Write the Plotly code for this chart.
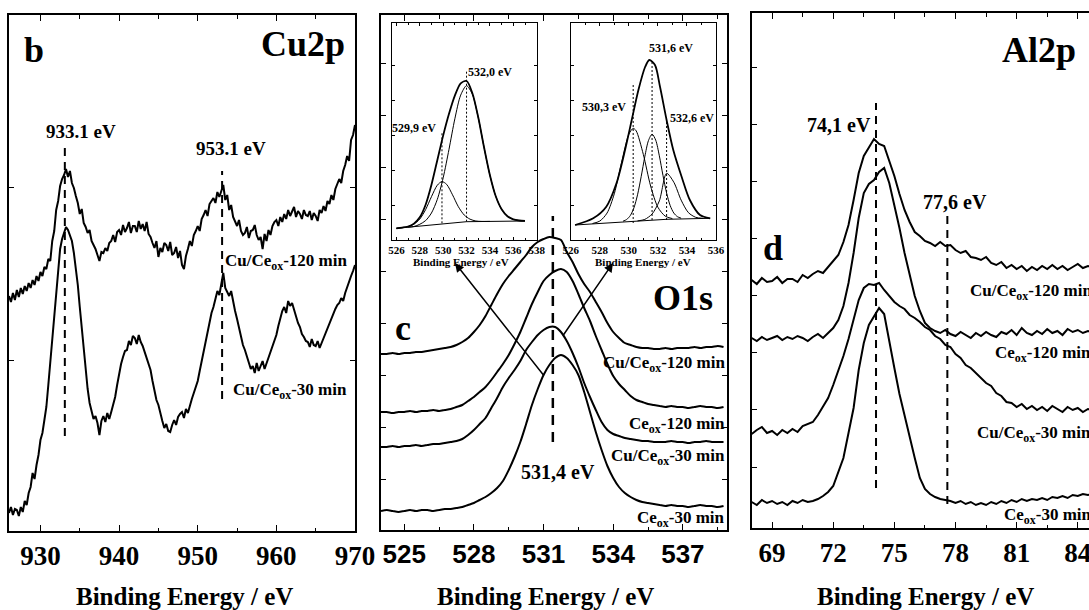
import numpy as np
import plotly.graph_objects as go

W, H = 1089, 610
SERIF = "Liberation Serif"
SANS = "Liberation Sans"

# ---------------- Cu2p spectra (panel b), arbitrary intensity ----------------
cu_energy = np.arange(926.0, 970.01, 0.25)
cu_120 = [
    235, 229, 238, 231,  241, 234, 243, 237,  245, 240, 248, 243,  251, 246, 255, 250,
    259, 255, 264, 262,  272, 270, 290, 300,  321, 330, 345, 352,  356, 362, 354, 360,
    348, 343, 335, 328,  317, 322, 308, 304,  298, 301, 290, 286,  282, 276, 270, 279,
    278, 283, 280, 288,  290, 296, 289, 299,  301, 296, 306, 299,  303, 309, 298, 305,
    305, 299, 310, 302,  307, 300, 309, 297,  294, 288, 283, 290,  274, 283, 279, 288,
    286, 280, 289, 276,  278, 284, 273, 280,  266, 262, 275, 282,  290, 285, 296, 300,
    305, 300, 312, 316,  321, 315, 327, 330,  333, 328, 339, 334,  340, 346, 331, 336,
    321, 326, 314, 310,  305, 311, 300, 296,  298, 304, 293, 300,  301, 306, 296, 291,
    294, 282, 297, 290,  301, 296, 305, 309,  311, 305, 314, 309,  317, 312, 321, 315,
    319, 324, 314, 320,  317, 312, 321, 316,  315, 320, 311, 318,  315, 310, 321, 318,
    325, 320, 330, 327,  336, 331, 342, 347,  352, 348, 360, 366,  375, 370, 391, 396,
    406,
]
cu_30 = [
    18, 24, 16, 22,  21, 15, 24, 19,  30, 26, 38, 44,  58, 52, 66, 76,
    91, 98, 111, 124,  146, 168, 193, 214,  235, 258, 282, 292,  298, 304, 301, 296,
    290, 278, 263, 246,  224, 203, 181, 160,  142, 128, 119, 112,  115, 108, 96, 110,
    115, 109, 118, 112,  119, 126, 134, 146,  158, 167, 174, 180,  181, 190, 186, 195,
    193, 187, 196, 189,  185, 179, 172, 167,  161, 150, 140, 131,  126, 117, 110, 103,
    107, 100, 99, 106,  111, 106, 114, 117,  119, 113, 122, 118,  126, 132, 138, 143,
    150, 160, 170, 180,  189, 198, 210, 218,  224, 232, 240, 236,  247, 258, 243, 238,
    235, 240, 229, 220,  212, 203, 192, 186,  181, 175, 170, 162,  165, 158, 168, 160,
    165, 170, 162, 168,  173, 180, 186, 190,  196, 205, 212, 220,  224, 218, 230, 225,
    228, 221, 214, 208,  204, 197, 194, 190,  189, 184, 192, 186,  185, 190, 183, 188,
    192, 199, 204, 208,  212, 218, 222, 226,  228, 233, 230, 238,  243, 249, 255, 260,
    266,
]
cu_peaks = [933.1, 953.1]
cu_ticks = [930, 940, 950, 960, 970]

# ---------------- O1s spectra (panel c) ----------------
o_energy = np.arange(524.0, 538.76, 0.25)
o_cu120 = [
    176, 176, 177, 176,  177, 177, 178, 178,  179, 180, 181, 182,  183, 185, 188, 192,
    198, 205, 214, 225,  236, 246, 254, 261,  268, 275, 283, 288,  291, 293, 292, 290,
    278, 268, 256, 246,  238, 228, 218, 207,  198, 192, 187, 185,  183, 182, 182, 181,
    181, 182, 181, 182,  182, 182, 183, 182,  183, 183, 184, 183,
]
o_ce120 = [
    118, 118, 117, 118,  118, 119, 118, 119,  119, 120, 119, 120,  121, 123, 125, 129,
    133, 138, 143, 150,  158, 166, 175, 186,  198, 212, 226, 238,  249, 255, 259, 261,
    258, 249, 236, 222,  209, 194, 180, 166,  154, 146, 140, 134,  130, 128, 126, 125,
    124, 123, 124, 123,  123, 122, 123, 124,  123, 123, 122, 123,
]
o_cu30 = [
    83, 83, 84, 83,  84, 84, 85, 84,  85, 86, 86, 87,  88, 89, 91, 95,
    100, 106, 112, 122,  132, 143, 152, 160,  169, 180, 188, 195,  200, 203, 203, 198,
    189, 177, 163, 147,  133, 120, 108, 100,  96, 94, 92, 91,  90, 89, 89, 88,
    88, 88, 89, 88,  88, 87, 88, 88,  89, 88, 88, 88,
]
o_ce30 = [
    19, 20, 19, 18,  19, 20, 19, 20,  20, 19, 20, 21,  21, 22, 23, 25,
    27, 30, 33, 37,  42, 49, 60, 73,  88, 106, 125, 141,  155, 165, 172, 175,
    172, 165, 155, 138,  118, 98, 80, 64,  52, 43, 37, 33,  30, 28, 27, 26,
    25, 24, 25, 24,  24, 23, 24, 25,  24, 24, 23, 24,
]
o_peak = 531.4
o_ticks = [525, 528, 531, 534, 537]

# O1s deconvolution, Cu/Ce_ox-30 min (left inset)
li_bg_e = [526.0, 532.0, 537.0]
li_bg = [11.7, 18.3, 19.0]
li_c1_e = [526.0, 526.5, 527.0, 527.5, 528.0, 528.5, 529.0, 529.5, 529.9,
           530.3, 530.8, 531.3, 531.8, 532.3, 532.8, 533.3, 534.0]
li_c1 = [11.7, 12.4, 13.4, 15.8, 20.9, 30.4, 43.3, 54.8, 58.4,
         55.6, 45.2, 33.3, 25.0, 20.8, 19.0, 18.6, 18.6]
li_c2_e = [527.0, 527.5, 528.0, 528.5, 529.0, 529.5, 530.0, 530.5, 531.0, 531.5, 532.0,
           532.5, 533.0, 533.5, 534.0, 534.5, 535.0, 535.5, 536.0, 536.5, 537.0]
li_c2 = [12.8, 13.5, 15.7, 19.4, 27.0, 40.6, 62.1, 90.7, 121.2, 144.9, 154.3,
         145.6, 122.5, 92.5, 64.6, 43.7, 30.6, 23.5, 20.6, 19.4, 19.2]
li_env_e = [526.0, 526.5, 527.0, 527.5, 528.0, 528.5, 529.0, 529.5, 530.0, 530.5, 531.0, 531.5,
            532.0, 532.5, 533.0, 533.5, 534.0, 534.5, 535.0, 535.5, 536.0, 536.5, 537.0]
li_env = [11.7, 12.4, 13.5, 16.4, 22.7, 35.3, 55.3, 79.8, 104.4, 126.2, 144.4, 156.6,
          159.0, 146.8, 122.7, 92.5, 64.8, 43.7, 30.7, 23.7, 20.6, 19.5, 19.1]
li_peaks = [529.9, 532.0]
li_ticks = [526, 528, 530, 532, 534, 536, 538]

# O1s deconvolution, Cu/Ce_ox-120 min (right inset)
ri_bg_e = [526.3, 532.6, 535.6]
ri_bg = [15.0, 20.7, 21.7]
ri_c1_e = [527.5, 528.0, 528.5, 529.0, 529.5, 530.0, 530.3, 530.5, 531.0, 531.5, 532.0, 532.5, 533.0]
ri_c1 = [16.5, 18.9, 26.9, 46.2, 77.6, 105.7, 111.6, 109.3, 85.5, 54.0, 32.8, 23.9, 21.4]
ri_c2_e = [529.6, 529.85, 530.1, 530.35, 530.6, 530.85, 531.1, 531.35, 531.6,
           531.85, 532.1, 532.35, 532.6, 532.85, 533.1, 533.35, 533.6]
ri_c2 = [18.8, 20.5, 24.4, 32.1, 45.2, 63.3, 83.3, 99.4, 105.8,
         99.9, 84.2, 64.6, 47.0, 34.3, 26.9, 23.3, 21.8]
ri_c3_e = [530.6, 531.1, 531.6, 532.1, 532.6, 533.1, 533.6, 534.1, 534.6, 535.1]
ri_c3 = [19.1, 20.6, 26.0, 39.1, 66.7, 57.7, 39.9, 27.4, 22.7, 21.7]
ri_env_e = [526.3, 527.55, 528.45, 529.15, 529.74, 530.2, 530.66, 531.12, 531.41,
            531.8, 532.15, 532.6, 533.06, 533.64, 534.2, 534.9, 535.6]
ri_env = [15.0, 21.7, 33.3, 56.7, 90.0, 120.0, 150.0, 173.0, 180.0,
          175.0, 153.0, 120.0, 90.0, 63.0, 40.0, 25.0, 21.7]
ri_peaks = [530.3, 531.6, 532.6]
ri_ticks = [526, 528, 530, 532, 534, 536]

# ---------------- Al2p spectra (panel d) ----------------
al_energy = np.arange(68.0, 84.76, 0.25)
al_cu120 = [
    248, 244, 250, 246,  247, 251, 245, 249,  249, 246, 253, 250,  254, 257, 255, 261,
    266, 273, 286, 303,  328, 355, 372, 380,  389, 384, 382, 367,  352, 334, 318, 306,
    296, 292, 287, 285,  282, 286, 282, 283,  278, 275, 277, 271,  270, 268, 271, 265,
    263, 266, 260, 263,  259, 262, 257, 261,  258, 262, 259, 263,  259, 262, 258, 261,
    264, 260, 262, 261,
]
al_ce120 = [
    190, 187, 191, 188,  190, 192, 188, 191,  189, 192, 190, 187,  191, 194, 190, 195,
    200, 208, 222, 245,  275, 310, 335, 344,  348, 356, 360, 345,  324, 300, 275, 252,
    232, 217, 205, 200,  197, 195, 198, 194,  192, 196, 193, 190,  195, 192, 196, 193,
    191, 196, 194, 198,  193, 200, 195, 193,  197, 194, 199, 195,  197, 193, 199, 196,
    198, 195, 197, 196,
]
al_cu30 = [
    94, 98, 101, 95,  97, 93, 98, 95,  99, 96, 102, 104,  106, 113, 121, 130,
    143, 157, 172, 189,  209, 228, 240, 244,  243, 245, 238, 232,  226, 222, 219, 213,
    210, 206, 201, 198,  192, 189, 183, 181,  174, 170, 163, 160,  155, 151, 145, 142,
    135, 132, 126, 125,  121, 124, 119, 122,  118, 121, 117, 122,  119, 116, 121, 118,
    120, 116, 119, 118,
]
al_ce30 = [
    26, 23, 28, 25,  27, 24, 26, 23,  27, 25, 28, 26,  27, 29, 32, 36,
    42, 55, 70, 95,  120, 158, 185, 203,  212, 220, 214, 185,  160, 134, 112, 92,
    70, 50, 39, 34,  31, 29, 28, 27,  25, 27, 24, 26,  23, 25, 23, 26,
    24, 27, 25, 28,  26, 29, 27, 29,  28, 30, 28, 31,  30, 32, 30, 33,
    32, 34, 33, 34,
]
al_peaks = [74.1, 77.6]
al_ticks = [69, 72, 75, 78, 81, 84]


def fx(px):
    return px / W


def fy(py):
    return 1 - py / H


def dom_x(a, b):
    return [fx(a), min(fx(b), 1.0)]


def dom_y(top, bottom):
    return [fy(bottom), fy(top)]


fig = go.Figure()


def line(x, y, axis, width=2.0, dash=None, shape="linear"):
    fig.add_trace(go.Scatter(
        x=x, y=y, mode="lines", xaxis="x" + axis, yaxis="y" + axis,
        line=dict(color="black", width=width, dash=dash, shape=shape, smoothing=0.8),
        hoverinfo="skip", showlegend=False))


# panel b
line(cu_energy, cu_120, "")
line(cu_energy, cu_30, "")
line([cu_peaks[0]] * 2, [95, 387], "", width=2, dash="8px,6px")
line([cu_peaks[1]] * 2, [132, 360], "", width=2, dash="8px,6px")

# panel c
for s in (o_cu120, o_ce120, o_cu30, o_ce30):
    line(o_energy, s, "2", width=2, shape="spline")
line([o_peak] * 2, [88, 314], "2", width=2.5, dash="10px,7px")

# panel d
for s in (al_cu120, al_ce120, al_cu30, al_ce30):
    line(al_energy, s, "3", width=2)
line([al_peaks[0]] * 2, [40, 425], "3", width=2, dash="8px,6px")
line([al_peaks[1]] * 2, [24, 318], "3", width=2, dash="8px,6px")

# left inset
line(li_bg_e, li_bg, "4", width=1)
line(li_c1_e, li_c1, "4", width=1, shape="spline")
line(li_c2_e, li_c2, "4", width=1, shape="spline")
line(li_env_e, li_env, "4", width=1.8, shape="spline")
line([li_peaks[0]] * 2, [16.7, 108], "4", width=1, dash="2px,2px")
line([li_peaks[1]] * 2, [18.3, 170], "4", width=1, dash="2px,2px")

# right inset
line(ri_bg_e, ri_bg, "5", width=1)
line(ri_c1_e, ri_c1, "5", width=1, shape="spline")
line(ri_c2_e, ri_c2, "5", width=1, shape="spline")
line(ri_c3_e, ri_c3, "5", width=1, shape="spline")
line(ri_env_e, ri_env, "5", width=1.8, shape="spline")
line([ri_peaks[0]] * 2, [17, 155], "5", width=1, dash="2px,2px")
line([ri_peaks[1]] * 2, [20, 180], "5", width=1, dash="2px,2px")
line([ri_peaks[2]] * 2, [20, 120], "5", width=1, dash="2px,2px")


def xax(domain, rng, anchor, ticks, t0, mdt, font, lw=2, tl=6, mtl=3.5, standoff=0,
        mirror="ticks"):
    return dict(domain=domain, range=rng, anchor=anchor, showline=True, linewidth=lw,
                linecolor="black", mirror=mirror, ticks="inside", ticklen=tl, tickwidth=1.3,
                tickcolor="black", tickmode="array", tickvals=ticks,
                ticktext=["<b>%d</b>" % t for t in ticks],
                minor=dict(tick0=t0, dtick=mdt, ticks="inside", ticklen=mtl, tickwidth=1.1,
                           tickcolor="black"),
                showgrid=False, zeroline=False, tickfont=font, ticklabelstandoff=standoff,
                automargin=False, ticklabeloverflow="allow")


def yax(domain, rng, anchor, tickvals, lw=2, tl=5, mirror="ticks"):
    return dict(domain=domain, range=rng, anchor=anchor, showline=True, linewidth=lw,
                linecolor="black", mirror=mirror, ticks="inside", ticklen=tl, tickwidth=1.2,
                tickcolor="black", tickvals=tickvals, showticklabels=False,
                showgrid=False, zeroline=False, automargin=False)


serif_tick = dict(family=SERIF, size=27, color="black")
sans_tick = dict(family=SANS, size=26, color="black")
inset_tick = dict(family=SERIF, size=11, color="black")

layout = dict(
    width=W, height=H, autosize=False, margin=dict(l=0, r=0, t=0, b=0, pad=0),
    paper_bgcolor="white", plot_bgcolor="rgba(0,0,0,0)", showlegend=False,
    xaxis=xax(dom_x(9, 355), [926, 970], "y", cu_ticks, 930, 5, serif_tick),
    yaxis=yax(dom_y(15, 531), [0, 516], "x", [171, 344]),
    xaxis2=xax(dom_x(381, 727), [524.0, 538.9], "y2", o_ticks, 525, 1.5, sans_tick),
    yaxis2=yax(dom_y(15, 530), [0, 515], "x2", [51, 103, 155, 207, 259, 311, 363, 415, 467]),
    xaxis3=xax(dom_x(751.7, 1089), [68.0, 84.55], "y3", al_ticks, 69, 1.5, serif_tick),
    yaxis3=yax(dom_y(13, 528), [0, 515], "x3", [61, 119, 176, 233, 290, 347, 404, 461],
               mirror=False),
    xaxis4=xax(dom_x(391.7, 536.7), [525.6, 538.0], "y4", li_ticks, 526, 1, inset_tick,
               lw=1, tl=3, mtl=2, standoff=0),
    yaxis4=yax(dom_y(22.7, 240), [0, 217.3], "x4", [35, 70, 105, 140, 175], lw=1, tl=3),
    xaxis5=xax(dom_x(570.7, 716), [526.0, 536.0], "y5", ri_ticks, 526, 1, inset_tick,
               lw=1, tl=3, mtl=2, standoff=0),
    yaxis5=yax(dom_y(22.7, 240), [0, 217.3], "x5", [35, 70, 105, 140, 175], lw=1, tl=3),
)
fig.update_layout(**layout)


def text(s, x, y, size, xanchor="center", family=SERIF):
    fig.add_annotation(text="<b>%s</b>" % s, x=fx(x), y=fy(y), xref="paper", yref="paper",
                       showarrow=False, xanchor=xanchor, yanchor="middle",
                       font=dict(family=family, size=size, color="black"))


# panel letters and core levels
text("b", 34, 50, 36)
text("Cu2p", 303, 44, 36)
text("c", 403, 328, 36)
text("O1s", 683, 298, 36)
text("d", 773, 248, 36)
text("Al2p", 1039, 50, 36)

# peak positions
text("933.1 eV", 81, 132, 19)
text("953.1 eV", 231, 148, 19)
text("531,4 eV", 558, 472, 20)
text("74,1 eV", 839, 125, 20)
text("77,6 eV", 955, 202, 20)
text("529,9 eV", 438, 128, 12, xanchor="right")
text("532,0 eV", 466, 72, 12, xanchor="left")
text("531,6 eV", 647, 48, 12, xanchor="left")
text("530,3 eV", 628, 107, 12, xanchor="right")
text("532,6 eV", 668, 118, 12, xanchor="left")

# sample labels
text("Cu/Ce<sub>ox</sub>-120 min", 349, 262, 17, xanchor="right")
text("Cu/Ce<sub>ox</sub>-30 min", 349, 391, 17, xanchor="right")
text("Cu/Ce<sub>ox</sub>-120 min", 727, 364, 17, xanchor="right")
text("Ce<sub>ox</sub>-120 min", 727, 425, 17, xanchor="right")
text("Cu/Ce<sub>ox</sub>-30 min", 727, 457, 17, xanchor="right")
text("Ce<sub>ox</sub>-30 min", 727, 519, 17, xanchor="right")
text("Cu/Ce<sub>ox</sub>-120 min", 968, 292, 17, xanchor="left")
text("Ce<sub>ox</sub>-120 min", 993, 354, 17, xanchor="left")
text("Cu/Ce<sub>ox</sub>-30 min", 975, 434, 17, xanchor="left")
text("Ce<sub>ox</sub>-30 min", 1002, 516, 17, xanchor="left")

# axis titles
text("Binding Energy / eV", 184, 596, 25)
text("Binding Energy / eV", 545, 596, 25)
text("Binding Energy / eV", 925, 596, 25)
text("Binding Energy / eV", 461, 262, 11)
text("Binding Energy / eV", 643, 262, 11)

# arrows from spectra to their deconvolutions
for head, tail in (((455, 263), (545, 377)), ((613, 263), (562, 337))):
    fig.add_annotation(text="", x=fx(head[0]), y=fy(head[1]), xref="paper", yref="paper",
                       ax=tail[0] - head[0], ay=tail[1] - head[1], axref="pixel", ayref="pixel",
                       showarrow=True, arrowhead=2, arrowsize=1.2, arrowwidth=1.5,
                       arrowcolor="black", standoff=0, startstandoff=0)

fig.write_html(
    "out.html",
    config={"responsive": False, "displayModeBar": False},
    post_script="document.body.style.margin='0';document.body.style.overflow='hidden';",
)
